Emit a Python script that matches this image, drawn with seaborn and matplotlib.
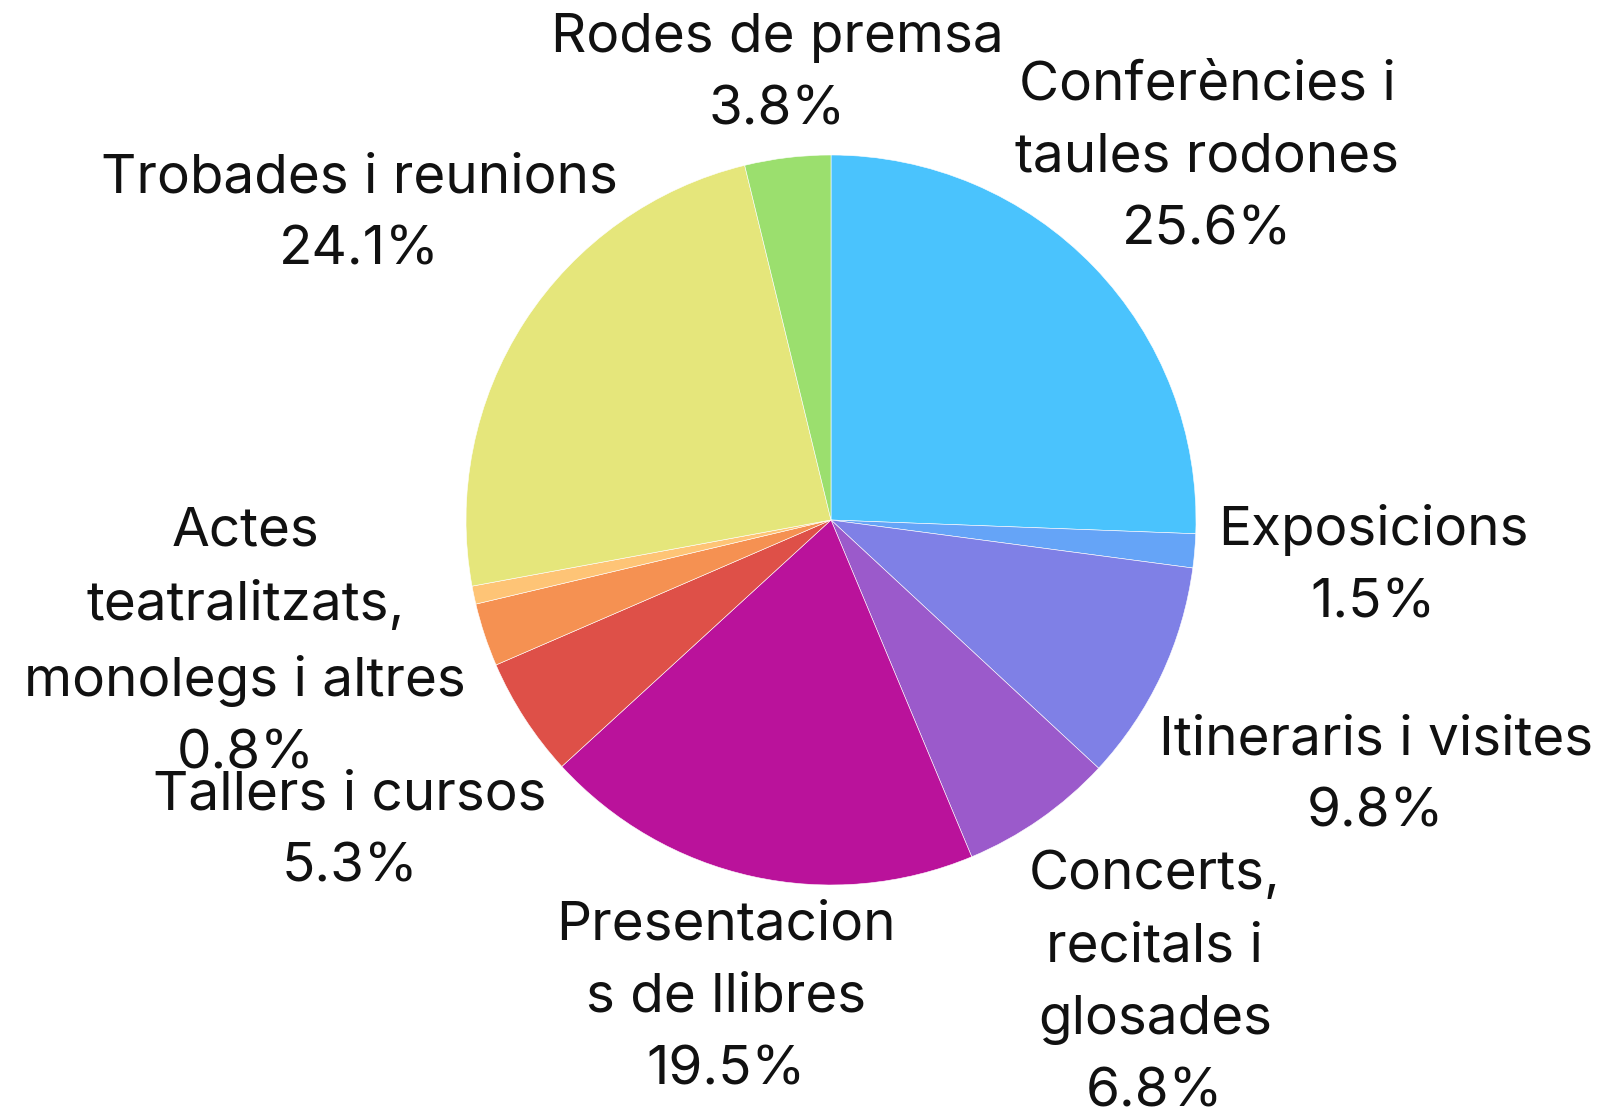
import matplotlib.pyplot as plt
import numpy as np
import seaborn as sns

sns.set_theme(style="white")
plt.rcParams["font.family"] = ["Inter", "DejaVu Sans"]

categories = [
    "Conferències i\ntaules rodones",
    "Exposicions",
    "Itineraris i visites",
    "Concerts,\nrecitals i\nglosades",
    "Presentacion\ns de llibres",
    "Tallers i cursos",
    "",
    "Actes\nteatralitzats,\nmonolegs i altres",
    "Trobades i reunions",
    "Rodes de premsa",
]
shares = [25.6, 1.5, 9.8, 6.8, 19.5, 5.3, 2.8, 0.8, 24.1, 3.8]
colors = ["#4AC3FD", "#65A4F7", "#7F80E6", "#9B5ACB", "#BA129B",
          "#DE5048", "#F59152", "#FEC476", "#E5E67B", "#9BDF6E"]
# radial position of each label block, in pie radii
label_dist = [1.43, 1.49, 1.65, 1.55, 1.34, 1.57, 1.5, 1.64, 1.54, 1.23]

fig = plt.figure(figsize=(15.99, 11.18), dpi=100)
cx, cy, r = 831, 520, 365
ax = fig.add_axes([(cx - r) / 1599, 1 - (cy + r) / 1118, 2 * r / 1599, 2 * r / 1118])

wedges, _ = ax.pie(shares, colors=colors, startangle=90, counterclock=False,
                   wedgeprops=dict(linewidth=0.4, edgecolor="white"))
ax.set_xlim(-1, 1)
ax.set_ylim(-1, 1)
ax.set_aspect("equal")
ax.axis("off")

for w, name, val, d in zip(wedges, categories, shares, label_dist):
    if not name:
        continue
    ang = np.deg2rad((w.theta1 + w.theta2) / 2)
    ax.text(d * np.cos(ang), d * np.sin(ang), f"{name}\n{val:.1f}%",
            ha="center", va="center", fontsize=39.5, fontweight="normal",
            linespacing=1.58, color="#111111", clip_on=False)

fig.savefig("out.png", dpi=100)
